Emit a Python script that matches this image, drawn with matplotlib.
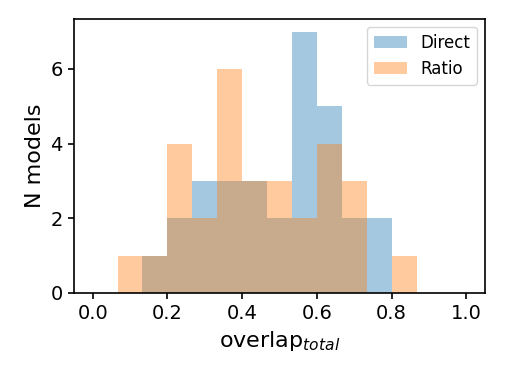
import numpy as np
import matplotlib.pyplot as plt

# bin edges: 15 equal bins on [0, 1]
bin_edges = np.linspace(0, 1, 16)
direct_counts = [0, 0, 1, 2, 3, 3, 3, 2, 7, 5, 2, 2, 0, 0, 0]
ratio_counts = [0, 1, 1, 4, 2, 6, 3, 3, 2, 4, 3, 0, 1, 0, 0]

centers = (bin_edges[:-1] + bin_edges[1:]) / 2

fig = plt.figure(figsize=(5.05, 3.79), dpi=100)
ax = fig.add_axes([0.1465, 0.227, 0.814, 0.724])

ax.hist(centers, bins=bin_edges, weights=direct_counts, alpha=0.4, label='Direct')
ax.hist(centers, bins=bin_edges, weights=ratio_counts, alpha=0.4, label='Ratio')

ax.set_xlabel(r'overlap$_{total}$', fontsize=16)
ax.set_ylabel('N models', fontsize=16)
ax.tick_params(labelsize=14, width=1.2, length=4.5)
for s in ax.spines.values():
    s.set_linewidth(1.2)
ax.set_yticks([0, 2, 4, 6])
ax.legend(fontsize=12)

fig.savefig('out.png', dpi=100)
